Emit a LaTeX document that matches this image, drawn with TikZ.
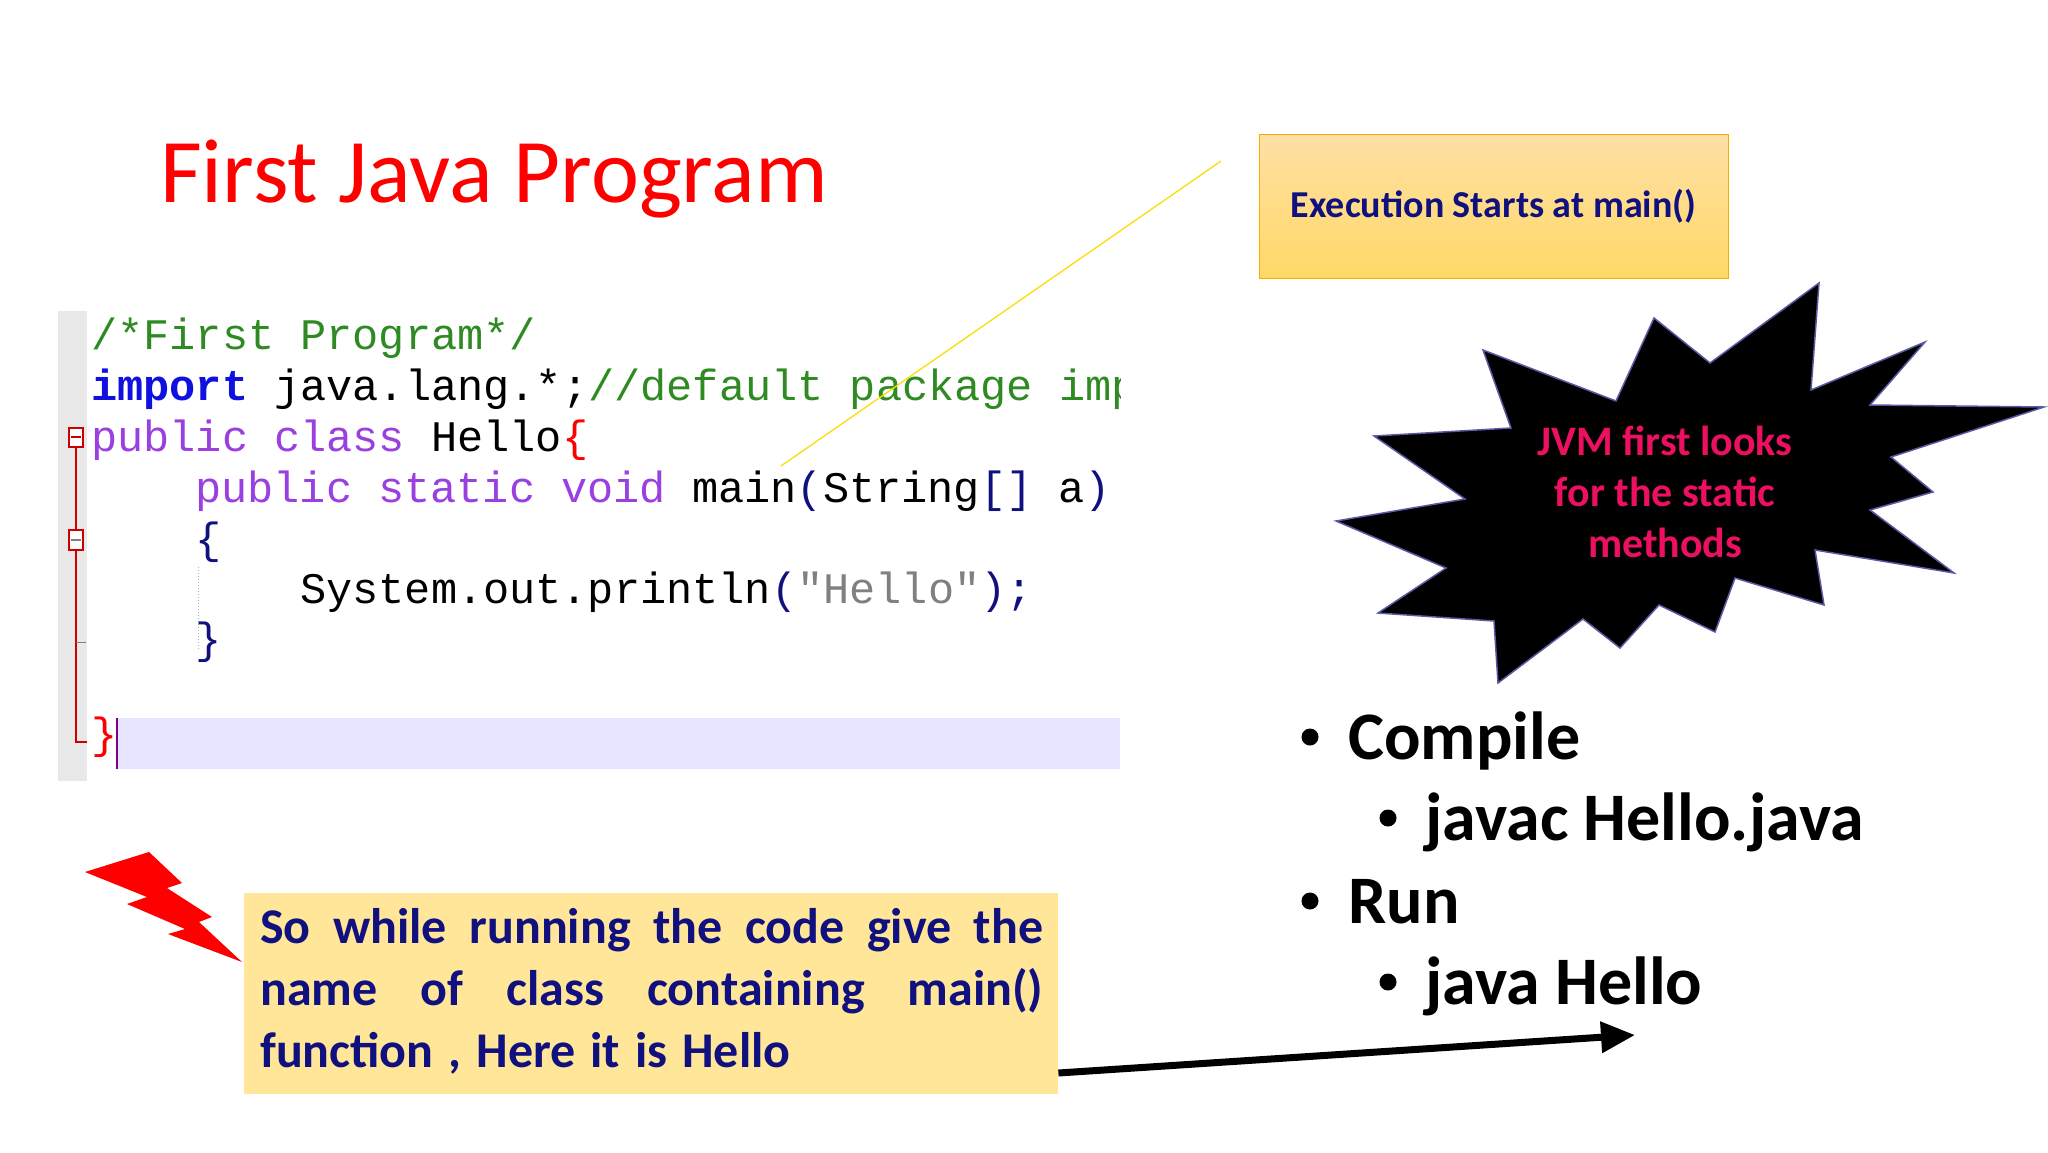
\documentclass[tikz,border=0pt]{standalone}
\usepackage{fontspec}
\setmainfont{Carlito}
\newfontfamily\codefont{Liberation Mono}
\usetikzlibrary{arrows.meta}
\definecolor{navy}{HTML}{10107F}
\definecolor{cgreen}{HTML}{2E8B22}
\definecolor{cpurple}{HTML}{9A3FE0}
\definecolor{cblue}{HTML}{1010E0}
\definecolor{jvm}{HTML}{EE1060}
\definecolor{boxy}{HTML}{FFE699}
\tikzset{
 code/.style={anchor=base west,inner sep=0,font=\codefont\fontsize{43.6}{51}\selectfont},
 bul/.style={anchor=base west,inner sep=0,font=\bfseries\fontsize{68}{76}\selectfont},
}
\begin{document}
\begin{tikzpicture}[x=1pt,y=-1pt]
\useasboundingbox (0,0) rectangle (2048,1152);
\fill[white] (0,0) rectangle (2048,1152);
% title
\node[anchor=base west,inner sep=0,text=red,font=\fontsize{91}{100}\selectfont] (title) at (160,202) {First Java Program};
% code area
\fill[gray!18] (58,311) rectangle (87,781);
\fill[blue!10] (116,718) rectangle (1120,769);
\draw[violet,line width=1.5] (117,718) -- (117,769);
\draw[red!80!black,line width=1.5] (76,447) -- (76,530) (76,550) -- (76,742) -- (87,742);
\draw[red!80!black,line width=1.2,fill=white] (69,428) rectangle (83,447);
\draw[red!80!black,line width=1.5] (71,437) -- (81,437);
\draw[red!80!black,line width=1.2,fill=white] (69,530) rectangle (83,550);
\draw[gray,line width=1.5] (71,540) -- (81,540);
\draw[gray,line width=1] (76,642) -- (86,642);
\draw[gray!60,dotted,line width=1] (198,567) -- (198,650);
\begin{scope}
\clip (87,300) rectangle (1120,790);
\node[code] (l1) at (91,349) {\textcolor{cgreen}{/*First Program*/}};
\node[code] (l2) at (91,400) {\textcolor{cblue}{\bfseries import} java.lang.*;\textcolor{cgreen}{//default package import}};
\node[code] (l3) at (91,451) {\textcolor{cpurple}{public class} Hello\textcolor{red}{\{}};
\node[code] (l4) at (195,502) {\textcolor{cpurple}{public static void} main\textcolor{navy}{(}String\textcolor{navy}{[]} a\textcolor{navy}{)}};
\node[code] (l5) at (195,553) {\textcolor{navy}{\{}};
\node[code] (l6) at (300,603) {System.out.println\textcolor{navy}{(}\textcolor{gray}{"Hello"}\textcolor{navy}{);}};
\node[code] (l7) at (195,653) {\textcolor{navy}{\}}};
\node[code] (l8) at (91,748) {\textcolor{red}{\}}};
\end{scope}
% callout box
\node[draw=orange!70!yellow,line width=1,top color=yellow!30!orange!35,bottom color=yellow!50!orange!60,minimum width=469,minimum height=144,font=\bfseries\fontsize{38}{42}\selectfont,text=navy] (exec) at (1493.5,206) {Execution Starts at main()};
\coordinate (ltop) at (1221,161);
\coordinate (lbot) at (781,466);
\draw[yellow!80!orange,line width=1.3] (ltop) -- (lbot);
% starburst
\fill[black,draw=blue!30!gray,line width=1.5] (1819,283)--(1811,390)--(1925,342)--(1870,405)--(2044,407)--(1891,457)--(1933,492)--(1870,510)--(1954,573)--(1815,550)--(1824,605)--(1735,578)--(1715,632)--(1659,605)--(1620,648)--(1583,619)--(1498,683)--(1494,621)--(1378,613)--(1446,568)--(1336,521)--(1465,499)--(1374,436)--(1511,428)--(1483,350)--(1616,401)--(1654,318)--(1710,363)--cycle;
\node[text=jvm,align=center,font=\bfseries\fontsize{42}{51}\selectfont] (jvm) at (1665,492) {JVM first looks\\for the static\\methods};
% bullets
\node[bul] (b1) at (1348,759) {Compile};
\node[bul] (b2) at (1425,840) {javac Hello.java};
\node[bul] (b3) at (1348,923) {Run};
\node[bul] (b4) at (1425,1004) {java Hello};
\foreach \p in {(1310,737),(1388,818),(1310,901),(1388,982)} \fill \p circle (8.5);
% lightning
\fill[red] (85,872)--(149,852)--(182,883)--(167,888)--(212,917)--(199,922)--(242,962)--(168,934)--(185,929)--(127,904)--(147,897)--cycle;
% bottom box
\node[fill=boxy,anchor=north west,minimum width=814,minimum height=201,inner sep=0] (note) at (244,893) {};
\node[anchor=north west,inner sep=0,text=navy,font=\bfseries\fontsize{50}{62}\selectfont] (notetext) at (260,908)
 {\parbox{783pt}{\rightskip=0pt \spaceskip=0.3em plus 2em So while running the code give the name of class containing main() function , Here it is Hello}};
\coordinate (aend) at (1635,1035);
\draw[line width=7,-{Triangle[length=34,width=30]}] (note.east |- 0,1073) -- (aend);
\end{tikzpicture}
\end{document}
